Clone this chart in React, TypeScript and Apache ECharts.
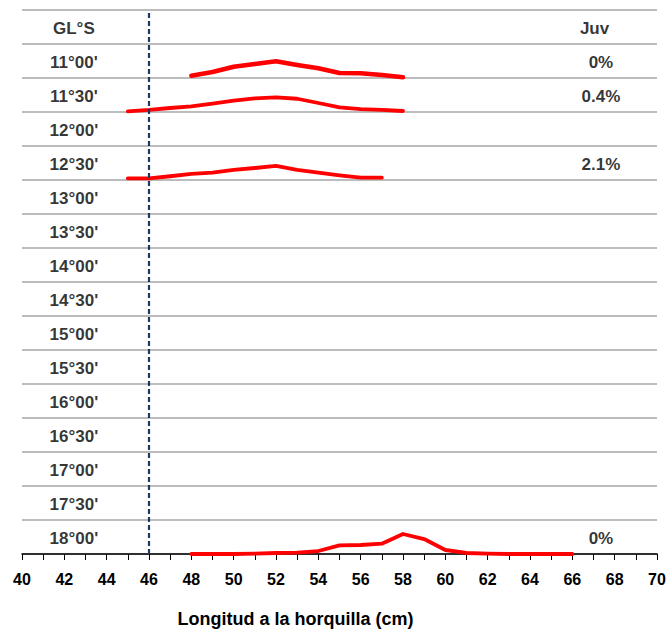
import React, { useEffect, useRef } from "react";
import * as echarts from "echarts";

// Row labels, from top to bottom (row 0 is the header row)
const ROW_LABELS = [
  "GL°S", "11°00'", "11°30'", "12°00'", "12°30'", "13°00'", "13°30'", "14°00'",
  "14°30'", "15°00'", "15°30'", "16°00'", "16°30'", "17°00'", "17°30'", "18°00'",
];

// Percentage of juveniles shown at the right of each row
const JUV_HEADER = "Juv";
const JUV_ROWS = [1, 2, 4, 15];
const JUV_VALUES = ["0%", "0.4%", "2.1%", "0%"];

// Length-frequency distributions (%) per latitude row
const LEN_11_00 = [48, 49, 50, 51, 52, 53, 54, 55, 56, 57, 58];
const FREQ_11_00 = [2.7, 7.1, 13.3, 16.5, 19.6, 15.3, 11.4, 5.9, 5.5, 3.5, 0.8];

const LEN_11_30 = [45, 46, 47, 48, 49, 50, 51, 52, 53, 54, 55, 56, 57, 58];
const FREQ_11_30 = [0.8, 2.4, 4.7, 6.5, 9.8, 13.3, 16.1, 17.3, 15.6, 10.6, 5.5, 3.5, 2.4, 1.2];

const LEN_12_30 = [45, 46, 47, 48, 49, 50, 51, 52, 53, 54, 55, 56, 57];
const FREQ_12_30 = [2.0, 2.0, 4.4, 7.1, 8.6, 11.8, 14.1, 16.5, 11.8, 8.6, 5.5, 2.7, 2.7];

const LEN_18_00 = [48, 49, 50, 51, 52, 53, 54, 55, 56, 57, 58, 59, 60, 61, 62, 63, 64, 65, 66];
const FREQ_18_00 = [0, 0, 0, 0.4, 1.2, 1.5, 3.5, 10.1, 10.6, 12.1, 23.5, 17.6, 4.7, 1.2, 0.4, 0, 0, 0, 0];

const DISTRIBUTIONS = [
  { row: 1, len: LEN_11_00, freq: FREQ_11_00, width: 4.5 },
  { row: 2, len: LEN_11_30, freq: FREQ_11_30, width: 3.8 },
  { row: 4, len: LEN_12_30, freq: FREQ_12_30, width: 3.8 },
  { row: 15, len: LEN_18_00, freq: FREQ_18_00, width: 3.8 },
];

// Minimum legal size line
const REF_LENGTH = 46;

const ROW_PCT = 40; // a full row height corresponds to this percentage
const N_ROWS = ROW_LABELS.length;

const X_TICKS_MIN = 40;
const X_TICKS_MAX = 70;
const X_INTERVAL = 2;

const FONT = "'Liberation Sans', Arial, sans-serif";

export default function App() {
  const ref = useRef<HTMLDivElement>(null);

  useEffect(() => {
    if (!ref.current) return;
    const chart = echarts.init(ref.current, undefined, { renderer: "svg" });

    const baseline = (row: number) => N_ROWS - 1 - row;
    const rowCenter = (row: number) => N_ROWS - row - 0.5;

    const lineSeries = DISTRIBUTIONS.map((d, k) => ({
      type: "line",
      showSymbol: false,
      symbol: "none",
      silent: true,
      data: d.len.map((l, i) => [l, baseline(d.row) + d.freq[i] / ROW_PCT]),
      lineStyle: { color: "#ff0000", width: d.width, cap: "round", join: "round" },
      z: 3,
      ...(k === 0
        ? {
            markLine: {
              silent: true,
              symbol: "none",
              label: { show: false },
              lineStyle: { color: "#1f3864", width: 2.2, type: [5, 3] },
              data: [{ xAxis: REF_LENGTH }],
              z: 5,
            },
          }
        : {}),
    }));

    const rowLabelData = ROW_LABELS.map((t, r) => ({ name: t, value: [42.45, rowCenter(r) - 0.03] }));
    const juvData = [
      { name: JUV_HEADER, value: [67.05, rowCenter(0) - 0.03] },
      ...JUV_ROWS.map((r, i) => ({ name: JUV_VALUES[i], value: [67.35, rowCenter(r) - 0.03] })),
    ];

    const textSeries = (data: any[], size: number) => ({
      type: "scatter",
      symbolSize: 0,
      silent: true,
      data,
      label: {
        show: true,
        position: "inside",
        formatter: "{b}",
        color: "#000",
        fontFamily: FONT,
        fontWeight: "bold",
        fontSize: size,
        align: "center",
        verticalAlign: "middle",
      },
      z: 4,
    });

    chart.setOption({
      animation: false,
      backgroundColor: "#ffffff",
      grid: { left: 22, right: 12, top: 10, bottom: 77, containLabel: false },
      xAxis: {
        type: "value",
        min: X_TICKS_MIN,
        max: X_TICKS_MAX,
        interval: X_INTERVAL,
        axisLine: { show: true, lineStyle: { color: "#000", width: 1.5 } },
        axisTick: { show: true, length: 6, lineStyle: { color: "#000", width: 1 } },
        minorTick: { show: true, splitNumber: 2, length: 6, lineStyle: { color: "#000", width: 1 } },
        splitLine: { show: false },
        axisLabel: {
          color: "#000",
          fontFamily: FONT,
          fontWeight: "bold",
          fontSize: 16,
          margin: 17,
        },
      },
      yAxis: {
        type: "value",
        min: 0,
        max: N_ROWS,
        interval: 1,
        axisLine: { show: false },
        axisTick: { show: false },
        axisLabel: { show: false },
        splitLine: { show: true, lineStyle: { color: "#a6a6a6", width: 1.5 } },
      },
      graphic: [
        {
          type: "text",
          x: 295.5,
          y: 619,
          style: {
            text: "Longitud a la horquilla (cm)",
            fill: "#000",
            font: `bold 18px ${FONT}`,
            textAlign: "center",
            textVerticalAlign: "middle",
          },
        },
      ],
      series: [...lineSeries, textSeries(rowLabelData, 17), textSeries(juvData, 17)],
    });

    return () => chart.dispose();
  }, []);

  return (
    <div
      ref={ref}
      style={{ position: "absolute", left: 0, top: 0, width: 669, height: 631 }}
    />
  );
}
